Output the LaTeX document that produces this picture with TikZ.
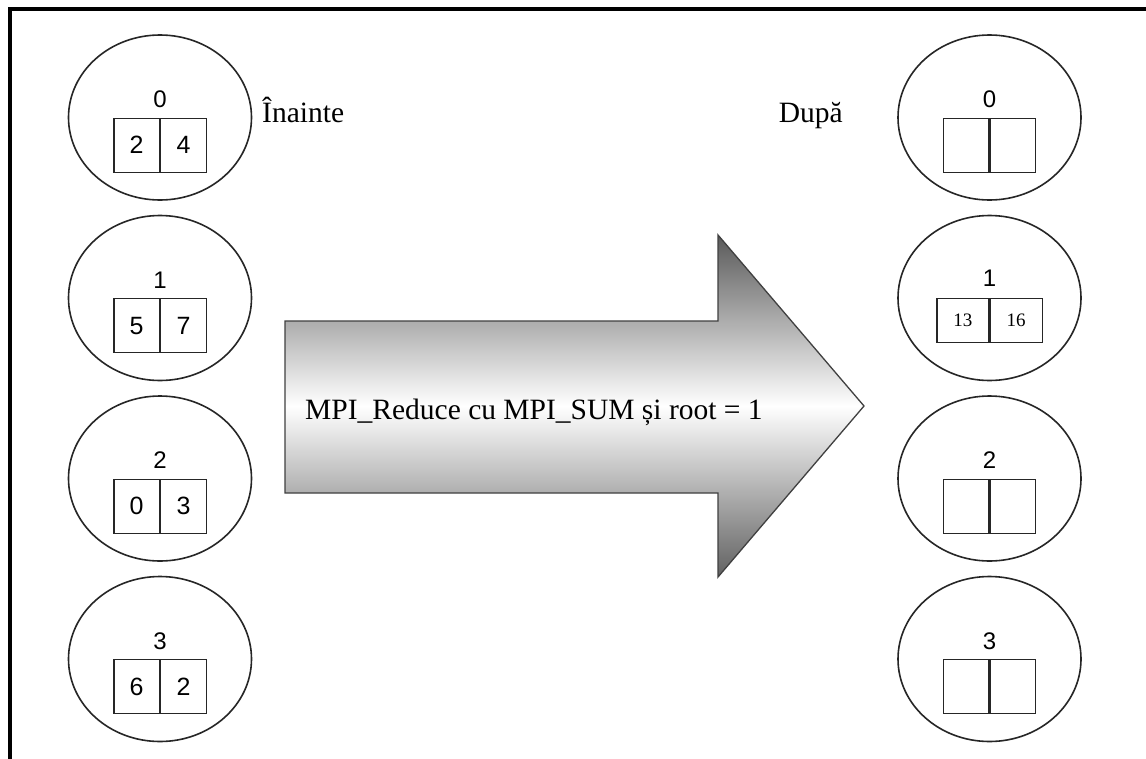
\documentclass[tikz,border=0pt]{standalone}
\usepackage{fontspec}
\setmainfont{Liberation Serif}
\newfontfamily\digitfont{Liberation Sans}
\usetikzlibrary{shapes.geometric}

\begin{document}
\begin{tikzpicture}[x=1pt,y=-1pt,
  proc/.style={ellipse, draw=black!85, line width=1.6pt,
    minimum width=183pt, minimum height=165pt, inner sep=0pt},
  cell/.style={draw=black!85, line width=1.4pt, minimum width=45.5pt,
    minimum height=54pt, inner sep=0pt,
    font=\digitfont\fontsize{25}{25}\selectfont},
  smallcell/.style={cell, minimum width=52pt, minimum height=44pt,
    font=\fontsize{19}{19}\selectfont},
  rank/.style={font=\digitfont\fontsize{24}{24}\selectfont, inner sep=0pt},
  caption/.style={font=\fontsize{29.5}{29.5}\selectfont, inner sep=0pt}]

\useasboundingbox (0,0) rectangle (1146,758);
\fill[white] (0,0) rectangle (1146,758);

% outer frame (only its top and left sides fall inside the page)
\draw[line width=3.6pt] (1150,9) -- (10,9) -- (10,762);

% processes before the reduction
\foreach \i/\cy/\a/\b in {0/117.5/2/4, 1/298/5/7, 2/478.5/0/3, 3/659/6/2} {
  \node[proc] (L\i) at (160,\cy) {};
  \node[cell, anchor=north east] (La\i) at (L\i.center) {\a};
  \node[cell, anchor=north west] (Lb\i) at (L\i.center) {\b};
  \node[rank] (Ln\i) at ([yshift=18pt]L\i.center) {\i};
}

% processes after the reduction
\foreach \i/\cy in {0/117.5, 2/478.5, 3/659} {
  \node[proc] (R\i) at (989.5,\cy) {};
  \node[cell, anchor=north east] (Ra\i) at (R\i.center) {};
  \node[cell, anchor=north west] (Rb\i) at (R\i.center) {};
  \node[rank] (Rn\i) at ([yshift=18pt]R\i.center) {\i};
}
\node[proc] (R1) at (989.5,298) {};
\node[smallcell, anchor=north east] (Ra1) at (R1.center) {13};
\node[smallcell, anchor=north west] (Rb1) at (R1.center) {16};
\node[rank] (Rn1) at ([yshift=20pt]R1.center) {1};

% side captions
\node[caption, anchor=base west] (before) at (262,122) {Înainte};
\node[caption, anchor=base east] (after) at (843,122) {După};

% big shaded arrow with the operation
\path[draw=black!75, line width=1.3pt,
      top color=black!65, bottom color=black!62, middle color=white]
  (285,321) -- (718,321) -- (718,235) -- (864,406) -- (718,577)
  -- (718,493) -- (285,493) -- cycle;
\node[caption, anchor=base west] (op) at (305,419)
  {MPI\_Reduce cu MPI\_SUM și root = 1};

\end{tikzpicture}
\end{document}
